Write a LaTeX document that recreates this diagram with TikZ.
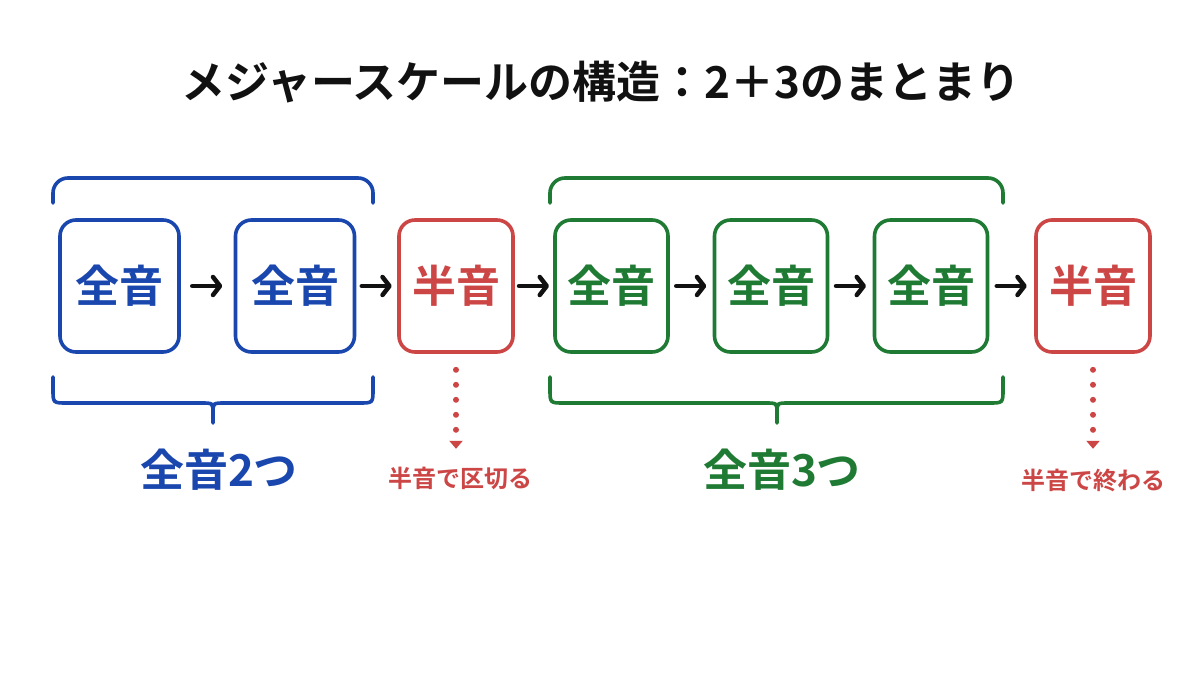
\documentclass[tikz,border=0pt]{standalone}
\usepackage{fontspec}
\newfontfamily\jp{Noto Sans CJK JP}[BoldFont={Noto Sans CJK JP Bold}]
\usetikzlibrary{arrows.meta,calc}
\definecolor{cblue}{HTML}{1A47AE}
\definecolor{cgreen}{HTML}{1F7A34}
\definecolor{cred}{HTML}{CC4646}
\definecolor{cblack}{HTML}{111111}
\tikzset{
  notebox/.style={draw, line width=3.6pt, rounded corners=16pt, minimum height=132pt,
    font=\jp\bfseries\fontsize{44}{44}\selectfont, inner sep=0pt},
  bluebox/.style={notebox, cblue, text=cblue, minimum width=119pt},
  greenbox/.style={notebox, cgreen, text=cgreen, minimum width=113pt},
  redbox/.style={notebox, cred, text=cred, minimum width=114pt},
  stepArrow/.style={cblack, line width=4.5pt, line cap=round,
    -{Straight Barb[length=7pt,width=18pt,line cap=round,line join=round]}},
  braceline/.style={line width=3.6pt, line cap=round},
  grouplabel/.style={font=\jp\bfseries\fontsize{44}{44}\selectfont, inner sep=0pt},
  notelabel/.style={font=\jp\bfseries\fontsize{24}{24}\selectfont, text=cred, inner sep=0pt},
  dotArrow/.style={cred, line width=6pt, line cap=round, dash pattern=on 0pt off 15pt,
    -{Triangle[length=8pt,width=13pt,line cap=butt]}},
}
\begin{document}
\begin{tikzpicture}[x=1pt,y=-1pt]
\fill[white] (0,0) rectangle (1200,675);
\useasboundingbox (0,0) rectangle (1200,675);

% title
\node[font=\jp\bfseries\fontsize{44}{44}\selectfont, text=cblack] (title) at (601,82)
  {メジャースケールの構造：2＋3のまとまり};

% boxes
\node[bluebox]  (b1) at (119.5,286) {全音};
\node[bluebox]  (b2) at (295,286) {全音};
\node[redbox]   (r1) at (456,286) {半音};
\node[greenbox] (g1) at (611.5,286) {全音};
\node[greenbox] (g2) at (771,286) {全音};
\node[greenbox] (g3) at (931,286) {全音};
\node[redbox]   (r2) at (1093,286) {半音};

% arrows
\foreach \a/\b in {b1/b2,b2/r1,r1/g1,g1/g2,g2/g3,g3/r2}{
  \draw[stepArrow] ($(\a.east)!.5!(\b.west)+(-15,0)$) -- ($(\a.east)!.5!(\b.west)+(15,0)$);
}

% top braces
\draw[braceline, cblue, rounded corners=15pt] (53,203) -- (53,178) -- (373,178) -- (373,203);
\draw[braceline, cgreen, rounded corners=15pt] (550,203) -- (550,178) -- (1003,178) -- (1003,203);

% bottom braces
\draw[braceline, cblue] (53,377) -- (53,389) .. controls (53,403) .. (67,403) -- (201,403)
  .. controls (213,403) .. (213,413) -- (213,423);
\draw[braceline, cblue] (373,377) -- (373,389) .. controls (373,403) .. (359,403) -- (225,403)
  .. controls (213,403) .. (213,413);
\draw[braceline, cgreen] (550,377) -- (550,389) .. controls (550,403) .. (564,403) -- (765,403)
  .. controls (777,403) .. (777,413) -- (777,423);
\draw[braceline, cgreen] (1003,377) -- (1003,389) .. controls (1003,403) .. (989,403) -- (789,403)
  .. controls (777,403) .. (777,413);

% group labels
\node[grouplabel, text=cblue] (lab2) at (219,470) {全音2つ};
\node[grouplabel, text=cgreen] (lab3) at (782,470) {全音3つ};

% note labels
\node[notelabel] (n1) at (460,478) {半音で区切る};
\node[notelabel] (n2) at (1093,480) {半音で終わる};

% dotted arrows
\draw[dotArrow] ($(r1.south)+(0,16)$) -- ($(r1.south)+(0,95)$);
\draw[dotArrow] ($(r2.south)+(0,16)$) -- ($(r2.south)+(0,95)$);
\end{tikzpicture}
\end{document}
